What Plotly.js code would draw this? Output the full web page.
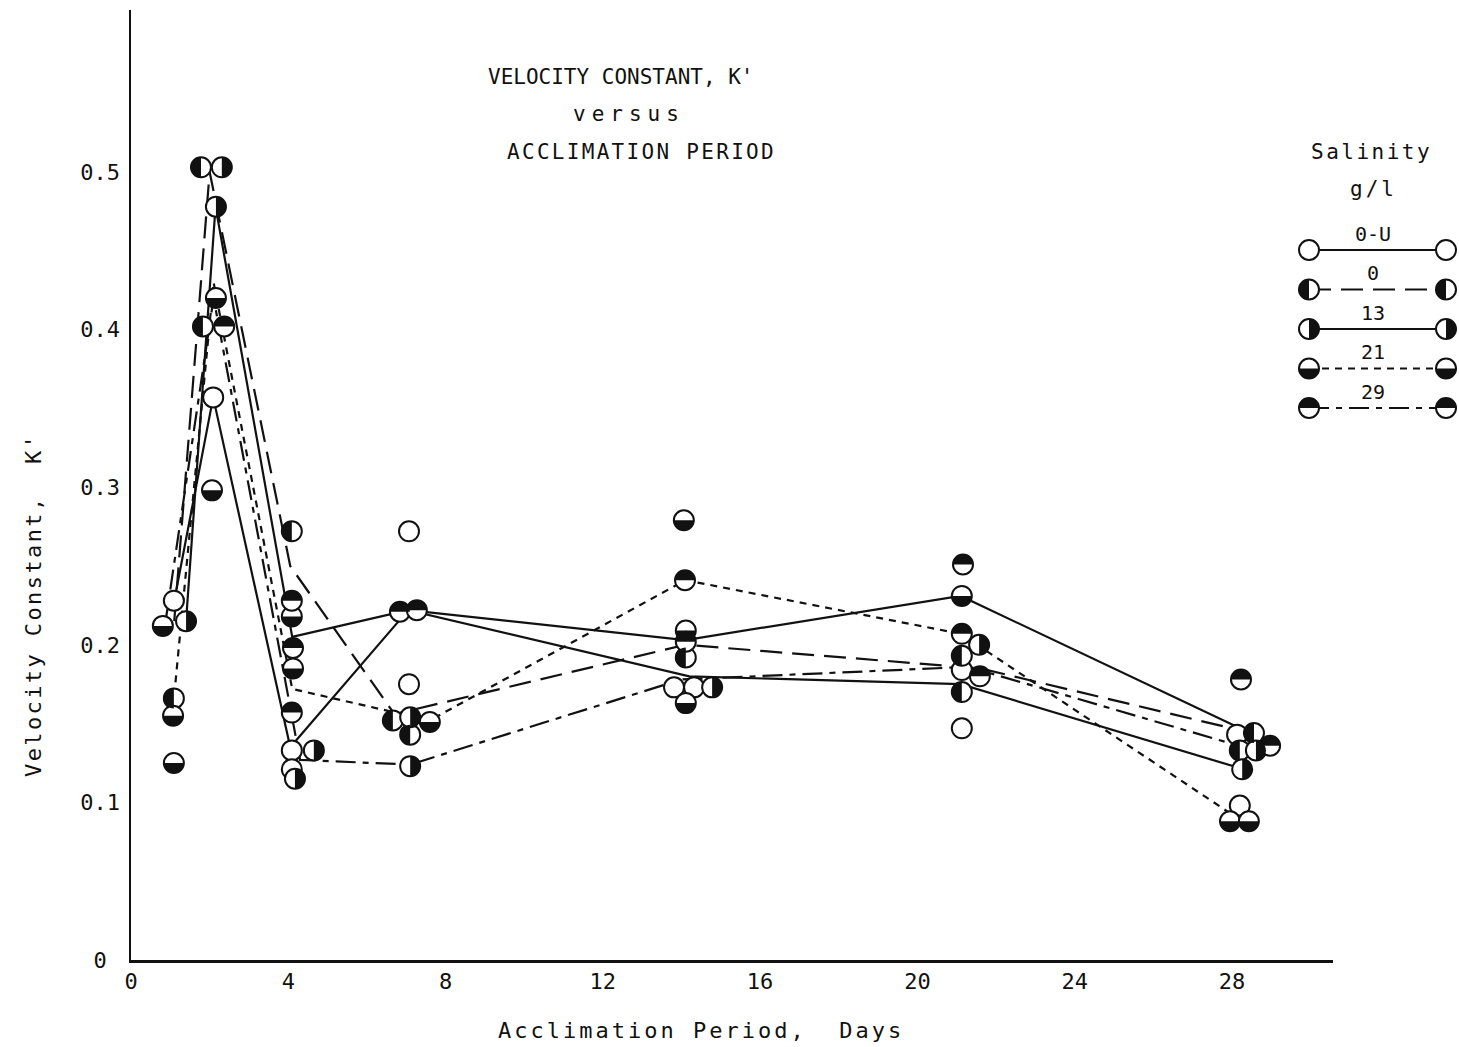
<!DOCTYPE html>
<html>
<head>
<meta charset="utf-8">
<script src="https://cdn.plot.ly/plotly-3.0.1.min.js"></script>
<style>html,body{margin:0;padding:0;background:#fff;}</style>
</head>
<body>
<div id="chart" style="width:1459px;height:1047px;"></div>
<script>
// Salinity groups (g/l)
const salinityLabels = ['0-U', '0', '13', '21', '29'];

// Mean velocity constant K' joined by lines, per salinity group
const meanDays_0U = [1.1, 2.09, 4.05, 7.05, 14.2, 21.1, 28.3];
const meanK_0U    = [0.228, 0.357, 0.135, 0.222, 0.180, 0.175, 0.121];
const meanDays_0  = [1.1, 2.0, 4.05, 6.7, 14.1, 21.6, 28.5];
const meanK_0     = [0.215, 0.500, 0.250, 0.156, 0.200, 0.185, 0.144];
const meanDays_13 = [1.4, 2.15, 4.1, 7.05, 14.1, 21.1, 28.3];
const meanK_13    = [0.215, 0.478, 0.205, 0.222, 0.203, 0.231, 0.146];
const meanDays_21 = [1.1, 2.1, 4.1, 7.6, 14.1, 21.1, 27.9];
const meanK_21    = [0.168, 0.430, 0.172, 0.152, 0.241, 0.207, 0.094];
const meanDays_29 = [0.85, 2.1, 4.3, 7.1, 14.0, 21.3, 28.3];
const meanK_29    = [0.210, 0.420, 0.127, 0.124, 0.178, 0.186, 0.135];

// Individual determinations
const obsDays_0U = [1.09, 2.09, 4.09, 4.09, 7.07, 7.07, 13.81, 14.32, 21.13, 21.13, 28.13, 28.20];
const obsK_0U    = [0.228, 0.357, 0.133, 0.121, 0.272, 0.175, 0.173, 0.173, 0.184, 0.147, 0.143, 0.098];
const obsDays_0  = [1.09, 1.78, 1.83, 4.09, 6.66, 7.10, 14.11, 21.13, 21.13, 28.56, 28.20];
const obsK_0     = [0.166, 0.503, 0.402, 0.272, 0.152, 0.143, 0.192, 0.193, 0.170, 0.144, 0.133];
const obsDays_13 = [1.40, 2.31, 2.16, 4.17, 4.65, 7.10, 7.10, 14.78, 21.57, 28.61, 28.26];
const obsK_13    = [0.215, 0.503, 0.478, 0.115, 0.133, 0.154, 0.123, 0.173, 0.200, 0.133, 0.121];
const obsDays_21 = [0.81, 1.07, 1.09, 2.16, 2.06, 4.09, 4.12, 7.60, 14.06, 14.11, 14.11, 21.13, 27.95, 28.43];
const obsK_21    = [0.212, 0.155, 0.125, 0.420, 0.298, 0.218, 0.185, 0.151, 0.279, 0.209, 0.163, 0.231, 0.088, 0.088];
const obsDays_29 = [2.37, 4.09, 4.12, 4.09, 6.84, 7.27, 14.09, 14.11, 21.16, 21.13, 21.59, 28.23, 28.97];
const obsK_29    = [0.402, 0.228, 0.198, 0.157, 0.221, 0.222, 0.241, 0.202, 0.251, 0.207, 0.180, 0.178, 0.136];

// Axis ticks
const dayTicks = [0, 4, 8, 12, 16, 20, 24, 28];
const kTicks = [0, 0.1, 0.2, 0.3, 0.4, 0.5];
const kTickText = ['0\u00a0', '0.1', '0.2', '0.3', '0.4', '0.5'];

// Text
const titleLines = ["VELOCITY CONSTANT, K'", 'versus', 'ACCLIMATION PERIOD'];
const xTitle = 'Acclimation Period,  Days';
const yTitle = "Velocity Constant,  K'";
const legendTitle = ['Salinity', 'g/l'];

// ---- drawing ----
const series = [
  {days: meanDays_0U, k: meanK_0U, odays: obsDays_0U, ok: obsK_0U, dash: 'solid', half: null},
  {days: meanDays_0,  k: meanK_0,  odays: obsDays_0,  ok: obsK_0,  dash: '22px,10px', half: 'left'},
  {days: meanDays_13, k: meanK_13, odays: obsDays_13, ok: obsK_13, dash: 'solid', half: 'right'},
  {days: meanDays_21, k: meanK_21, odays: obsDays_21, ok: obsK_21, dash: '7px,6px', half: 'bottom'},
  {days: meanDays_29, k: meanK_29, odays: obsDays_29, ok: obsK_29, dash: '20px,7px,6px,7px', half: 'top'}
];

const FONT = 'DejaVu Sans Mono, Liberation Mono, monospace';
const INK = '#111';
const R = 10;
const KAPPA = 0.5523 * R;

function halfPath(side) {
  const r = R, k = KAPPA;
  if (side === 'left')  return `M 0,${r} C ${-k},${r} ${-r},${k} ${-r},0 C ${-r},${-k} ${-k},${-r} 0,${-r} Z`;
  if (side === 'right') return `M 0,${r} C ${k},${r} ${r},${k} ${r},0 C ${r},${-k} ${k},${-r} 0,${-r} Z`;
  if (side === 'top')   return `M ${-r},0 C ${-r},${k} ${-k},${r} 0,${r} C ${k},${r} ${r},${k} ${r},0 Z`;
  return `M ${-r},0 C ${-r},${-k} ${-k},${-r} 0,${-r} C ${k},${-r} ${r},${-k} ${r},0 Z`;
}

function halfShape(side, x, y, xref, yref) {
  return {
    type: 'path', xref: xref, yref: yref,
    xsizemode: 'pixel', ysizemode: 'pixel',
    xanchor: x, yanchor: y,
    path: halfPath(side),
    fillcolor: INK, line: {width: 0}, layer: 'above'
  };
}

const spaced = (t, px) => `<span style="letter-spacing:${px}px">${t}</span>`;

const markerStyle = {symbol: 'circle', size: 20, color: '#fff', line: {color: INK, width: 2}};
const traces = [];
const shapes = [];

// mean lines first so the circles sit on top of them
series.forEach(s => {
  traces.push({
    type: 'scatter', mode: 'lines', x: s.days, y: s.k,
    line: {color: INK, width: 2.2, dash: s.dash},
    xaxis: 'x', yaxis: 'y', hoverinfo: 'skip'
  });
});
series.forEach(s => {
  traces.push({
    type: 'scatter', mode: 'markers', x: s.odays, y: s.ok,
    marker: markerStyle, xaxis: 'x', yaxis: 'y'
  });
  if (s.half) {
    s.odays.forEach((d, i) => shapes.push(halfShape(s.half, d, s.ok[i], 'x', 'y')));
  }
});

// key: one short line per group with a circle at each end
series.forEach((s, i) => {
  traces.push({
    type: 'scatter', mode: 'lines+markers', x: [0, 1], y: [i, i],
    line: {color: INK, width: 2, dash: s.dash},
    marker: markerStyle, xaxis: 'x2', yaxis: 'y2', hoverinfo: 'skip'
  });
  if (s.half) {
    shapes.push(halfShape(s.half, 0, i, 'x2', 'y2'));
    shapes.push(halfShape(s.half, 1, i, 'x2', 'y2'));
  }
});

// page-pixel helpers for text placement
const ML = 131, MT = 10, PW = 1328, PH = 950;
const px = v => (v - ML) / PW;
const py = v => (MT + PH - v) / PH;

const annotations = [];
const txt = (text, x, y, size, extra) => Object.assign({
  text: text, xref: 'paper', yref: 'paper', x: px(x), y: py(y),
  xanchor: 'center', yanchor: 'middle', showarrow: false,
  font: {family: FONT, size: size, color: INK}
}, extra || {});

annotations.push(txt(titleLines[0], 621, 77, 21));
annotations.push(txt(spaced(titleLines[1], 6), 629, 114, 21));
annotations.push(txt(spaced(titleLines[2], 2.3), 641, 152, 21));
annotations.push(txt(spaced(xTitle, 3), 701, 1030, 22));
annotations.push(txt(spaced(yTitle, 2.4), 33, 605, 22, {textangle: -90}));
annotations.push(txt(spaced(legendTitle[0], 2.5), 1371, 152, 21));
annotations.push(txt(spaced(legendTitle[1], 3), 1373, 189, 21));

salinityLabels.forEach((lab, i) => {
  annotations.push({
    text: lab, xref: 'x2', yref: 'y2', x: 0.47, y: i, yshift: 16,
    xanchor: 'center', yanchor: 'middle', showarrow: false,
    font: {family: FONT, size: 20, color: INK}
  });
});

const layout = {
  width: 1459, height: 1047,
  margin: {l: ML, r: 0, t: MT, b: 87},
  paper_bgcolor: '#fff', plot_bgcolor: 'rgba(0,0,0,0)',
  showlegend: false,
  xaxis: {
    domain: [0, 1202 / PW], range: [0, 30.57],
    showline: true, linecolor: INK, linewidth: 3,
    showgrid: false, zeroline: false, ticks: '',
    tickvals: dayTicks, ticktext: dayTicks.map(String),
    ticklabelstandoff: 0,
    tickfont: {family: FONT, size: 22, color: INK},
    fixedrange: true
  },
  yaxis: {
    domain: [0, 1], range: [0, 0.6028],
    showline: true, linecolor: INK, linewidth: 2.5,
    showgrid: false, zeroline: false, ticks: '',
    tickvals: kTicks, ticktext: kTickText,
    ticklabelstandoff: 4,
    tickfont: {family: FONT, size: 22, color: INK},
    fixedrange: true
  },
  xaxis2: {
    domain: [px(1296.67), px(1458.33)], range: [-0.09, 1.09],
    anchor: 'y2', visible: false, fixedrange: true
  },
  yaxis2: {
    domain: [py(427.75), py(230.25)], range: [4.5, -0.5],
    anchor: 'x2', visible: false, fixedrange: true
  },
  shapes: shapes,
  annotations: annotations
};

Plotly.newPlot('chart', traces, layout, {displayModeBar: false, staticPlot: true});
</script>
</body>
</html>
